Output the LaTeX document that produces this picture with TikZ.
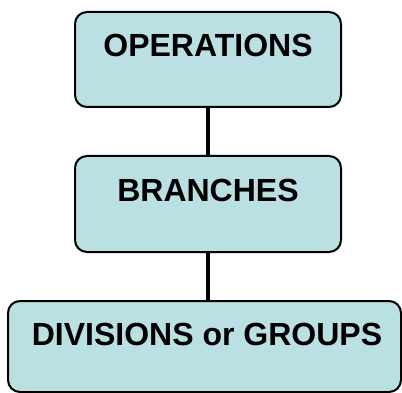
\documentclass[tikz,border=0pt]{standalone}
\usepackage{fontspec}
\setmainfont{Liberation Sans}
\definecolor{boxfill}{RGB}{186,224,227}
\tikzset{
  orgbox/.style={draw=black, line width=2pt, fill=boxfill, rounded corners=12pt,
    inner sep=0pt, outer sep=0pt},
  orglabel/.style={font=\fontsize{32}{38}\selectfont\bfseries, inner sep=0pt, anchor=base},
  link/.style={line width=4.5pt, black}
}
\begin{document}
\begin{tikzpicture}[x=1pt, y=-1pt]
  \useasboundingbox (0,0) rectangle (402,393);
  \clip (0,0) rectangle (402,393);
  % three levels of the hierarchy
  \node[orgbox, minimum width=266pt, minimum height=95pt] (ops) at (208,59.5) {};
  \node[orgbox, minimum width=266pt, minimum height=96pt] (br) at (208,204) {};
  \node[orgbox, minimum width=393pt, minimum height=91pt] (dv) at (204.5,346.5) {};
  \node[orglabel] (opst) at (208,57) {OPERATIONS};
  \node[orglabel] (brt) at (208,201) {BRANCHES};
  \node[orglabel] (dvt) at (207,345) {DIVISIONS or GROUPS};
  % connectors between levels
  \draw[link] (ops.south) -- (br.north);
  \draw[link] (br.south) -- (br.south |- dv.north);
\end{tikzpicture}
\end{document}
